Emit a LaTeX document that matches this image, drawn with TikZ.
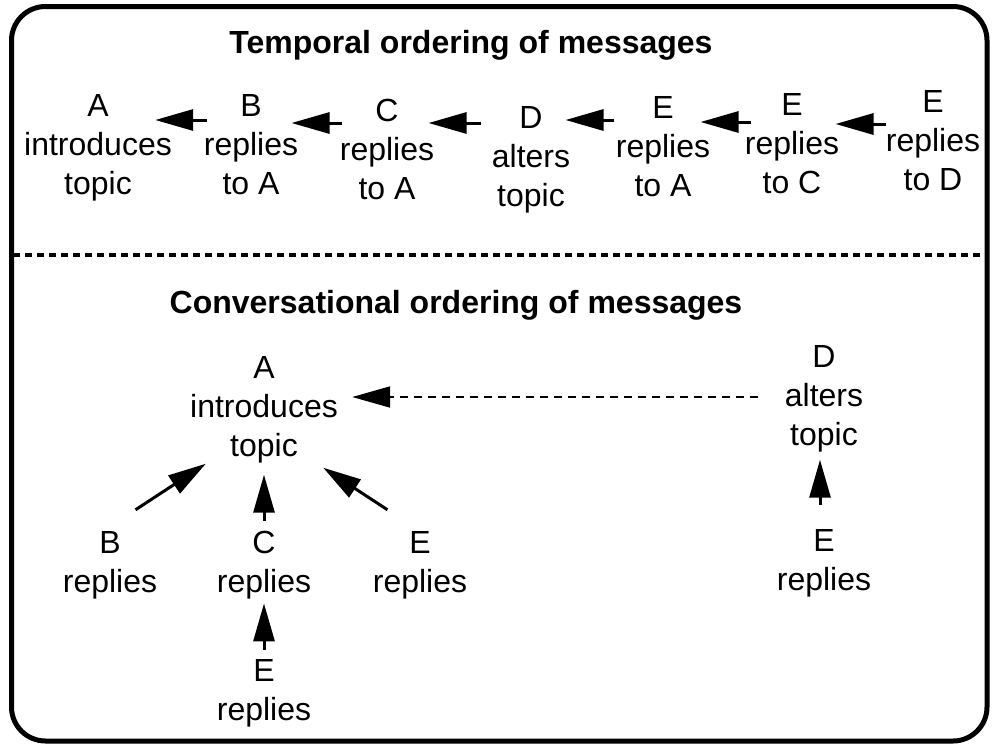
\documentclass[tikz,border=0pt]{standalone}
\usepackage{fontspec}
\setmainfont{Liberation Sans}
\usetikzlibrary{arrows.meta}
\begin{document}
\begin{tikzpicture}[x=1pt, y=-1pt, thick,
  msg/.style={align=center, inner sep=0pt, font=\fontsize{32}{39}\selectfont},
  heading/.style={inner sep=0pt, font=\fontsize{32}{39}\selectfont\bfseries},
  arr/.style={-{Triangle[length=38pt, width=21pt]}, line width=3pt},
  later/.style={arr, line width=2pt, dash pattern=on 8pt off 6pt}]
	\useasboundingbox (0,0) rectangle (992,744);
	\draw[line width=5pt, rounded corners=34pt] (11.5,6.5) rectangle (987,741);
	\draw[line width=4pt, dash pattern=on 7pt off 5pt] (13,255) -- (988,255);
	% temporal ordering
	\node[heading] (title1) at (471,45) {Temporal ordering of messages};
	\node[msg] (t0) at (98,148) {A\\introduces\\topic};
	\node[msg] (t1) at (251,145) {B\\replies\\to A};
	\node[msg] (t2) at (387,149) {C\\replies\\to A};
	\node[msg] (t3) at (531,160) {D\\alters\\topic};
	\node[msg] (t4) at (663,147) {E\\replies\\to A};
	\node[msg] (t5) at (792,144) {E\\replies\\to C};
	\node[msg] (t6) at (933,141) {E\\replies\\to D};
	\draw[arr] ([shift={(4,-25)}]t1.west) -- ([shift={(-17,-28)}]t0.east);
	\draw[arr] ([shift={(3,-26)}]t2.west) -- ([shift={(-7,-22)}]t1.east);
	\draw[arr] ([shift={(-10,-37)}]t3.west) -- ([shift={(-6,-26)}]t2.east);
	\draw[arr] ([shift={(-1,-27)}]t4.west) -- ([shift={(-5,-40)}]t3.east);
	\draw[arr] ([shift={(7,-22)}]t5.west) -- ([shift={(-10,-25)}]t4.east);
	\draw[arr] ([shift={(1,-17)}]t6.west) -- ([shift={(-4,-20)}]t5.east);
	% conversational ordering
	\node[heading] (title2) at (456,305) {Conversational ordering of messages};
	\node[msg] (c0) at (264,410) {A\\introduces\\topic};
	\node[msg] (c1) at (824,399) {D\\alters\\topic};
	\node[msg] (c2) at (110,565) {B\\replies};
	\node[msg] (c3) at (264,565) {C\\replies};
	\node[msg] (c4) at (420,565) {E\\replies};
	\node[msg] (c5) at (264,693) {E\\replies};
	\node[msg] (c6) at (824,563) {E\\replies};
	\draw[later] ([shift={(-26,-2)}]c1.west) -- ([shift={(14,-13)}]c0.east);
	\draw[arr] ([shift={(-22,-21)}]c2.north east) -- ([shift={(16,0)}]c0.south west);
	\draw[arr] ([shift={(0,-10)}]c3.north) -- ([shift={(0,11)}]c0.south);
	\draw[arr] ([shift={(15,-21)}]c4.north west) -- ([shift={(-15,4)}]c0.south east);
	\draw[arr] ([shift={(0,-9)}]c5.north) -- ([shift={(0,4)}]c3.south);
	\draw[arr] ([shift={(-4,-24)}]c6.north) -- ([shift={(-4,7)}]c1.south);
\end{tikzpicture}
\end{document}
